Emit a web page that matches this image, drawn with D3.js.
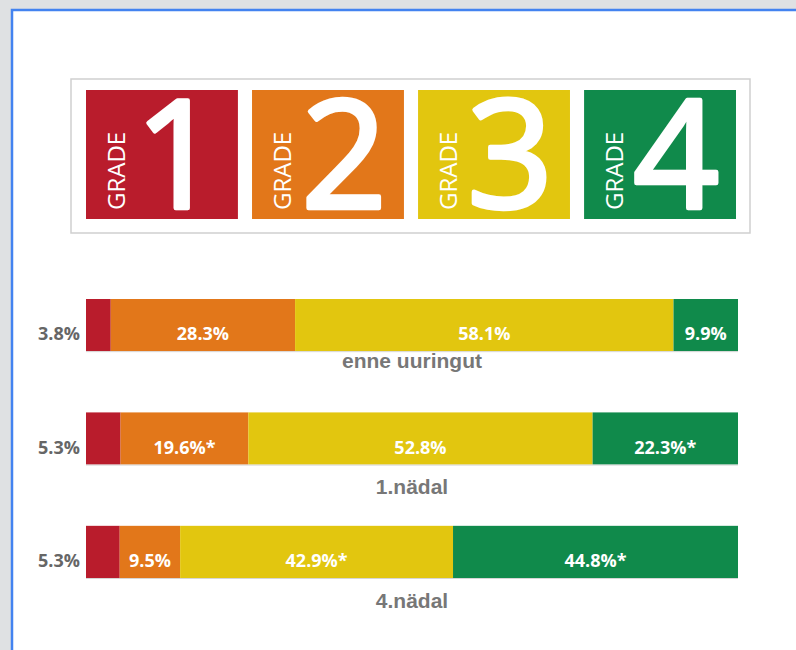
<!DOCTYPE html>
<html>
<head>
<meta charset="utf-8">
<script src="https://cdn.jsdelivr.net/npm/d3@7"></script>
<style>
  html, body { margin: 0; padding: 0; background: #dfe1e3; }
  svg { display: block; }
</style>
</head>
<body>
<div id="vis"></div>
<script>
// data
const grades = ["1", "2", "3", "4"];
const rowLabels = ["enne uuringut", "1.nädal", "4.nädal"];
const grade1 = [3.8, 5.3, 5.3];
const grade2 = [28.3, 19.6, 9.5];
const grade3 = [58.1, 52.8, 42.9];
const grade4 = [9.9, 22.3, 44.8];
// which grades got a * (significant change)
const starred = [[], ["2", "4"], ["3", "4"]];

const WIDTH = 796;
const HEIGHT = 650;

const SVG = d3.select("#vis").append("svg")
    .attr("width", WIDTH)
    .attr("height", HEIGHT);

const colorScale = d3.scaleOrdinal()
    .domain(grades)
    .range(["#b91c2c", "#e2771a", "#e2c60f", "#108a4b"]);

// page frame
SVG.append("rect")
    .attr("x", 11).attr("y", 9)
    .attr("width", WIDTH - 11).attr("height", HEIGHT - 9)
    .attr("fill", "white");
SVG.append("path")
    .attr("d", `M12,${HEIGHT} V10 H${WIDTH}`)
    .attr("fill", "none")
    .attr("stroke", "#4383f0")
    .attr("stroke-width", 2.5);

// legend with grade tiles
const LEGEND = { x: 71, y: 79, w: 679, h: 154 };

SVG.append("rect")
    .attr("x", LEGEND.x)
    .attr("y", LEGEND.y)
    .attr("width", LEGEND.w)
    .attr("height", LEGEND.h)
    .attr("fill", "white")
    .attr("stroke", "#cfcfcf")
    .attr("stroke-width", 1.5);

const tileX = d3.scaleBand()
    .domain(grades)
    .range([86, 736])
    .paddingInner(0.085);

const TILE_TOP = 90;
const TILE_H = 129;

const tiles = SVG.selectAll("g.tile")
    .data(grades)
    .join("g")
    .attr("class", "tile")
    .attr("transform", d => `translate(${tileX(d)}, ${TILE_TOP})`);

tiles.append("rect")
    .attr("width", tileX.bandwidth())
    .attr("height", TILE_H)
    .attr("fill", d => colorScale(d));

tiles.append("text")
    .text("GRADE")
    .attr("transform", `translate(39, ${TILE_H - 9}) rotate(-90)`)
    .attr("fill", "white")
    .attr("font-family", "Open Sans")
    .attr("font-weight", 400)
    .attr("font-size", 24);

// big digit, stroked a bit to get a heavier look
tiles.append("text")
    .text(d => d)
    .attr("x", 92)
    .attr("y", TILE_H - 11)
    .attr("text-anchor", "middle")
    .attr("fill", "white")
    .attr("stroke", "white")
    .attr("stroke-width", 4.5)
    .attr("stroke-linejoin", "round")
    .attr("font-family", "Open Sans")
    .attr("font-weight", 400)
    .attr("font-size", 150);

// stacked bars
const rows = rowLabels.map((label, i) => ({
    label,
    "1": grade1[i],
    "2": grade2[i],
    "3": grade3[i],
    "4": grade4[i],
    stars: starred[i]
}));

const series = d3.stack().keys(grades)(rows);

const BAR_LEFT = 86;
const BAR_RIGHT = 738;
const captionGap = [17, 29, 30];

const yScale = d3.scaleBand()
    .domain(rowLabels)
    .range([299, 578])
    .paddingInner(0.54);

// each bar fills the full width, scaled to its own total
const xScales = rows.map(r => d3.scaleLinear()
    .domain([0, d3.sum(grades, g => r[g])])
    .range([BAR_LEFT, BAR_RIGHT]));

const segments = series.flatMap(s => s.map((d, i) => ({
    grade: s.key,
    row: i,
    label: rowLabels[i],
    x0: d[0],
    x1: d[1],
    value: d.data[s.key],
    star: d.data.stars.includes(s.key)
})));

const barGroup = SVG.append("g");

barGroup.selectAll("rect.seg")
    .data(segments)
    .join("rect")
    .attr("class", "seg")
    .attr("x", d => xScales[d.row](d.x0))
    .attr("y", d => yScale(d.label))
    .attr("width", d => xScales[d.row](d.x1) - xScales[d.row](d.x0))
    .attr("height", yScale.bandwidth())
    .attr("fill", d => colorScale(d.grade));

// thin grey line under each bar
barGroup.selectAll("line.base")
    .data(rowLabels)
    .join("line")
    .attr("class", "base")
    .attr("x1", BAR_LEFT)
    .attr("x2", BAR_RIGHT)
    .attr("y1", d => yScale(d) + yScale.bandwidth() + 0.5)
    .attr("y2", d => yScale(d) + yScale.bandwidth() + 0.5)
    .attr("stroke", "#d6d6d6")
    .attr("stroke-width", 1);

const fmt = d => d.value.toFixed(1) + "%" + (d.star ? "*" : "");

// grade 1 labels sit left of the bar
barGroup.selectAll("text.outside")
    .data(segments.filter(d => d.grade === "1"))
    .join("text")
    .attr("class", "outside")
    .attr("x", BAR_LEFT - 6)
    .attr("y", d => yScale(d.label) + yScale.bandwidth() / 2 + 9)
    .attr("dy", "0.35em")
    .attr("text-anchor", "end")
    .attr("fill", "#666")
    .attr("font-family", "Open Sans")
    .attr("font-weight", "bold")
    .attr("font-size", 18)
    .text(fmt);

barGroup.selectAll("text.inside")
    .data(segments.filter(d => d.grade !== "1"))
    .join("text")
    .attr("class", "inside")
    .attr("x", d => (xScales[d.row](d.x0) + xScales[d.row](d.x1)) / 2)
    .attr("y", d => yScale(d.label) + yScale.bandwidth() / 2 + 9)
    .attr("dy", "0.35em")
    .attr("text-anchor", "middle")
    .attr("fill", "white")
    .attr("font-family", "Open Sans")
    .attr("font-weight", "bold")
    .attr("font-size", 18)
    .text(fmt);

// captions under bars
barGroup.selectAll("text.caption")
    .data(rowLabels)
    .join("text")
    .attr("class", "caption")
    .attr("x", (BAR_LEFT + BAR_RIGHT) / 2)
    .attr("y", (d, i) => yScale(d) + yScale.bandwidth() + captionGap[i])
    .attr("text-anchor", "middle")
    .attr("fill", "#777")
    .attr("font-family", "Liberation Sans, Arial, sans-serif")
    .attr("font-weight", "bold")
    .attr("font-size", 21)
    .text(d => d);
</script>
</body>
</html>
